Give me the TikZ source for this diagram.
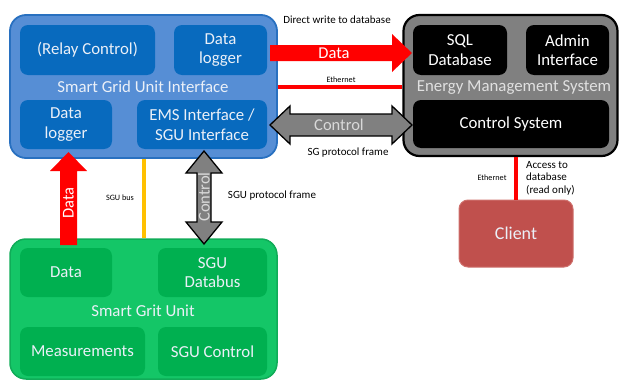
\documentclass[tikz,border=0pt]{standalone}
\usepackage{fontspec}
\setmainfont{Carlito}
\definecolor{bluefill}{RGB}{86,142,213}
\definecolor{blueedge}{RGB}{40,112,192}
\definecolor{blueinner}{RGB}{8,106,190}
\definecolor{greenfill}{RGB}{20,198,103}
\definecolor{greenedge}{RGB}{16,172,88}
\definecolor{greeninner}{RGB}{0,176,80}
\definecolor{emsfill}{RGB}{128,128,128}
\definecolor{clientfill}{RGB}{192,80,77}
\definecolor{clientedge}{RGB}{206,112,108}
\definecolor{busyellow}{RGB}{255,192,0}
\definecolor{paletext}{RGB}{235,240,248}
\begin{document}
\begin{tikzpicture}[x=1pt,y=-1pt,
  sz/.style 2 args={minimum width=#1, minimum height=#2},
  box/.style={rectangle, inner sep=0pt, align=center, font=\fontsize{16.8}{19.5}\selectfont},
  outerblue/.style={box, rounded corners=16pt, fill=bluefill, draw=blueedge, line width=1.8pt},
  innerblue/.style={box, rounded corners=8pt, fill=blueinner, text=paletext},
  outerems/.style={box, rounded corners=16pt, fill=emsfill, draw=black, line width=2.2pt},
  innerems/.style={box, rounded corners=8pt, fill=black, text=white},
  outergreen/.style={box, rounded corners=16pt, fill=greenfill, draw=greenedge, line width=1.5pt},
  innergreen/.style={box, rounded corners=8pt, fill=greeninner, text=paletext},
  clientbox/.style={box, rounded corners=9pt, fill=clientfill, draw=clientedge, line width=1pt, text=paletext, font=\fontsize{18}{20}\selectfont},
  boxlabel/.style={inner sep=0pt, font=\fontsize{16.8}{19.5}\selectfont},
  note/.style={inner sep=0pt, align=left, font=\fontsize{11}{12.5}\selectfont},
  tiny/.style={inner sep=0pt, font=\fontsize{8.2}{9}\selectfont},
  wire/.style={line width=3.2pt},
  fatred/.style={fill=red},
  fatgrey/.style={fill=emsfill, draw=black, line width=1.3pt, line join=miter},
  arrowtext/.style={inner sep=0pt, font=\fontsize{16.5}{18}\selectfont}
]
\useasboundingbox (0,0) rectangle (619,380);

% Smart Grid Unit Interface
\node[outerblue, sz={267}{143}] (sgui) at (143.5,86.5) {};
\node[innerblue, sz={135}{50}] (relay) at (87.5,50) {(Relay Control)};
\node[innerblue, sz={93}{50}] (dl1) at (220.5,50) {Data\\logger};
\node[boxlabel, text=paletext] (sguilbl) at (143,87) {Smart Grid Unit Interface};
\node[innerblue, sz={92}{49}] (dl2) at (66,124.5) {Data\\logger};
\node[innerblue, sz={130}{49}] (emsif) at (202,124.5) {EMS Interface /\\SGU Interface};

% Energy Management System
\node[outerems, sz={214}{141}] (ems) at (510.5,85.5) {};
\node[innerems, sz={94}{50}] (sql) at (460,50) {SQL\\Database};
\node[innerems, sz={83}{50}] (admin) at (567.5,50) {Admin\\Interface};
\node[boxlabel, text=white!88!black] (emslbl) at (514,87) {Energy Management System};
\node[innerems, sz={196}{48}] (ctrl) at (511,124) {Control System};

% Smart Grit Unit
\node[outergreen, sz={267}{140}] (sgu) at (143.5,309) {};
\node[innergreen, sz={92}{49}] (data) at (66,272.5) {Data};
\node[innergreen, sz={109}{49}] (databus) at (212.5,272.5) {SGU\\Databus};
\node[boxlabel, text=paletext] (sgulbl) at (143,311) {Smart Grit Unit};
\node[innergreen, sz={125}{49}] (meas) at (82.5,351.5) {Measurements};
\node[innergreen, sz={109}{49}] (sguctrl) at (212.5,351.5) {SGU Control};

% Client
\node[clientbox, sz={114}{67}] (client) at (516,233.5) {Client};

% wires
\coordinate (eth) at (0,87);
\coordinate (bus) at (144,0);
\draw[wire, red] (sgui.east |- eth) -- (ems.west |- eth);
\draw[wire, red] (client.north) -- (client.north |- ems.south);
\draw[line width=3.2pt, busyellow] (bus |- sgui.south) -- (bus |- sgu.north);

% fat arrows
\fill[fatred] (270,45) -- (392,45) -- (392,34) -- (412,53) -- (392,72) -- (392,61) -- (270,61) -- cycle;
\node[arrowtext, text=white] (datah) at (334,53) {Data};

\draw[fatgrey] (270,125) -- (290,106) -- (290,114) -- (392,114) -- (392,106) -- (412,125)
  -- (392,144) -- (392,136) -- (290,136) -- (290,144) -- cycle;
\node[arrowtext, text=white!85!black] (ctrlh) at (339,125) {Control};

\fill[fatred] (68.5,152) -- (87,171) -- (77,171) -- (77,245) -- (60,245) -- (60,171) -- (50,171) -- cycle;
\node[arrowtext, text=white, rotate=90] (datav) at (68.5,203) {Data};

\draw[fatgrey] (204,151) -- (222,173) -- (211,173) -- (211,222) -- (222,222) -- (204,244)
  -- (186,222) -- (197,222) -- (197,173) -- (186,173) -- cycle;
\node[arrowtext, text=white!85!black, rotate=90] (ctrlv) at (204,197) {Control};

% labels
\node[note] (direct) at (337,20) {Direct write to database};
\node[tiny] (ethlbl) at (341,80) {Ethernet};
\node[note] (sgpf) at (348,153) {SG protocol frame};
\node[tiny] (buslbl) at (120,198) {SGU bus};
\node[note] (sgupf) at (272,196) {SGU protocol frame};
\node[tiny] (ethlbl2) at (492,178) {Ethernet};
\node[note, anchor=west] (access) at (526,178) {Access to\\database\\(read only)};
\end{tikzpicture}
\end{document}
